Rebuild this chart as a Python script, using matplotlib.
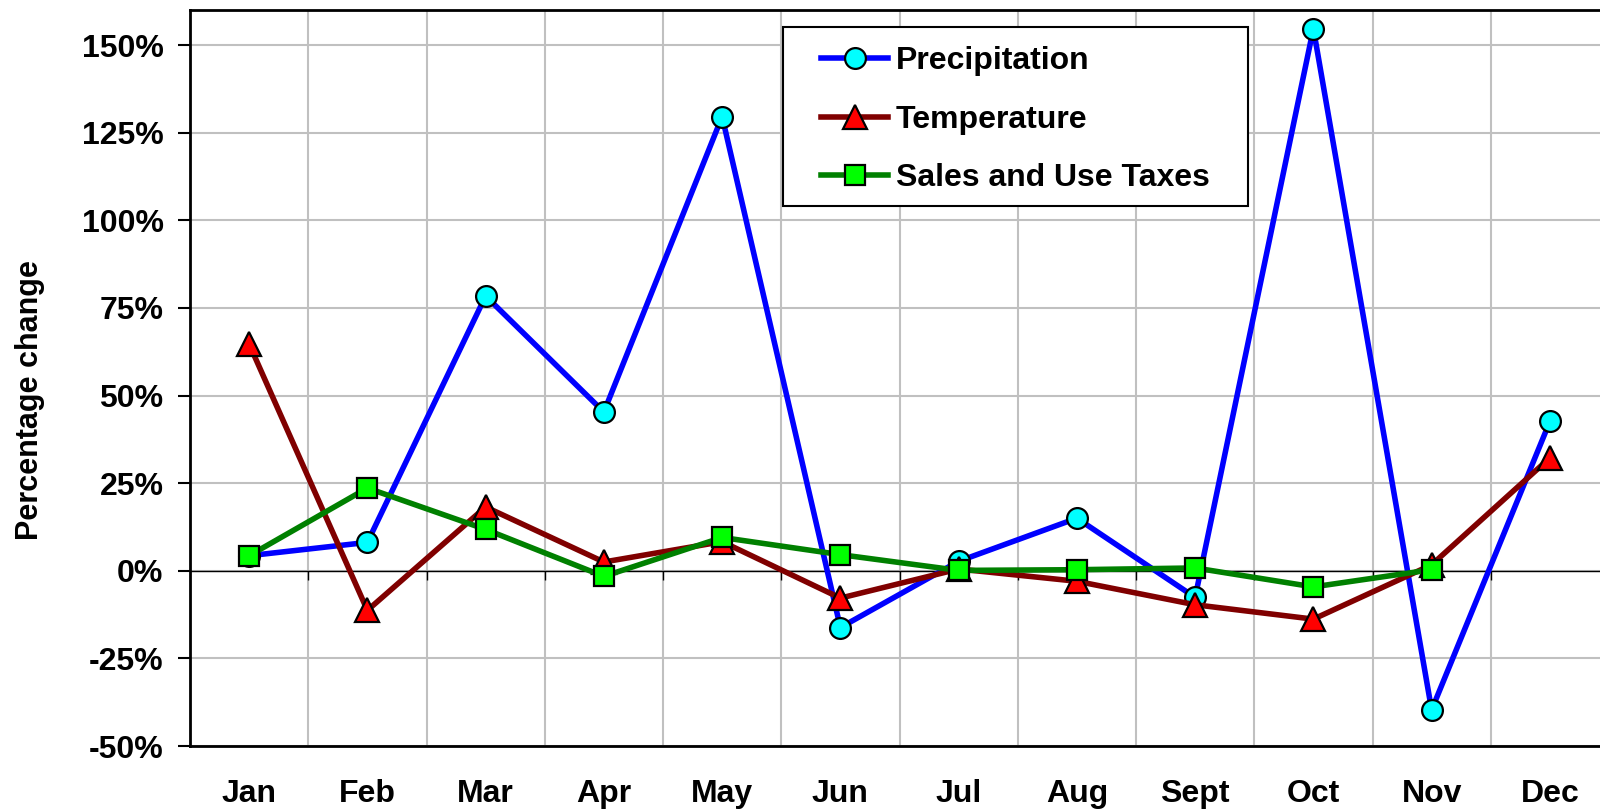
import numpy as np
import matplotlib
matplotlib.use("Agg")
import matplotlib.pyplot as plt
from matplotlib.patches import Rectangle
from matplotlib.ticker import FuncFormatter, MultipleLocator

plt.rcParams['font.family'] = ['Liberation Sans', 'DejaVu Sans']
plt.rcParams['font.weight'] = 'bold'

months = ["Jan", "Feb", "Mar", "Apr", "May", "Jun",
          "Jul", "Aug", "Sept", "Oct", "Nov", "Dec"]
precipitation = [4.3, 8.1, 78.4, 45.3, 129.6, -16.2, 2.7, 15.0, -7.6, 154.7, -39.7, 42.6]
temperature = [64.7, -11.3, 18.2, 2.5, 8.3, -7.8, 0.5, -3.0, -9.7, -13.8, 1.7, 32.2]
sales_taxes = [4.3, 23.6, 11.8, -1.6, 9.5, 4.6, 0.1, 0.3, 0.8, -4.6, 0.3, np.nan]

fig = plt.figure(figsize=(16, 8.09), dpi=100)
ax = fig.add_axes([190 / 1600, 63 / 809, 1419 / 1600, 736 / 809])

x = np.arange(len(months))
ax.plot(x, precipitation, color='#0000FF', lw=4, marker='o', ms=15,
        mfc='#00FFFF', mec='black', mew=1.6, label='Precipitation', zorder=3)
ax.plot(x, temperature, color='#800000', lw=4, marker='^', ms=17,
        mfc='#FF0000', mec='black', mew=1.6, label='Temperature', zorder=4)
ax.plot(x, sales_taxes, color='#008000', lw=4, marker='s', ms=14.5,
        mfc='#00FF00', mec='black', mew=1.6, label='Sales and Use Taxes', zorder=5)

ax.set_xlim(-0.5, len(months) - 0.5)
ax.set_ylim(-50, 160)
ax.yaxis.set_major_locator(MultipleLocator(25))
ax.yaxis.set_major_formatter(FuncFormatter(lambda v, p: f"{v:.0f}%"))

ax.set_xticks(x)
ax.set_xticklabels(months)
ax.set_xticks(np.arange(-0.5, len(months)), minor=True)
ax.tick_params(axis='x', which='major', length=0, pad=24, labelsize=23)
ax.tick_params(axis='x', which='minor', length=0)
ax.tick_params(axis='y', length=9, width=1.5, pad=10, labelsize=23)

ax.grid(True, which='minor', axis='x', color='#C0C0C0', lw=1.5)
ax.grid(True, which='major', axis='y', color='#C0C0C0', lw=1.5)
ax.set_axisbelow(True)

# zero line with small category ticks
ax.axhline(0, color='black', lw=1, zorder=2)
ax.vlines(np.arange(0.5, len(months)), -2.5, 0, color='black', lw=1, zorder=2)

for s in ['top', 'right']:
    ax.spines[s].set_visible(False)
ax.spines['left'].set_linewidth(2)
ax.spines['bottom'].set_linewidth(2)
ax.plot([0, 1.2], [1, 1], transform=ax.transAxes, color='black', lw=2, clip_on=False)

ax.set_ylabel('Percentage change', fontsize=22, fontweight='bold')
ax.yaxis.set_label_coords(-0.102, 0.47)

# legend box drawn separately so padding matches
ax.add_patch(Rectangle((783 / 1600, 1 - 206 / 809), 465 / 1600, 179 / 809,
                       transform=fig.transFigure, facecolor='white',
                       edgecolor='black', lw=1.5, zorder=8, clip_on=False))
leg = ax.legend(loc='upper left', bbox_to_anchor=(821 / 1600, 1 - 46 / 809),
                bbox_transform=fig.transFigure, fontsize=23, frameon=False,
                handlelength=2.1, borderpad=0, labelspacing=0.9,
                handletextpad=0.25, borderaxespad=0)
leg.set_zorder(10)

fig.savefig("out.png", dpi=100)
